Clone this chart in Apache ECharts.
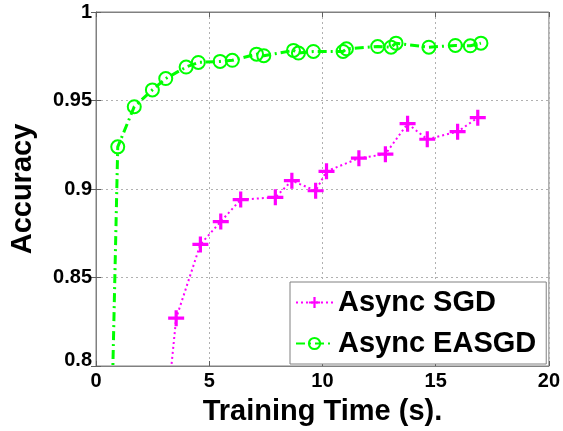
<!DOCTYPE html>
<html>
<head>
<meta charset="utf-8">
<script src="https://cdn.jsdelivr.net/npm/echarts@6/dist/echarts.min.js"></script>
<style>html,body{margin:0;padding:0;background:#fff}#c{width:563px;height:431px}</style>
</head>
<body>
<div id="c"></div>
<script>
// Data
var xTicks = [0, 5, 10, 15, 20];
var yTicks = [0.8, 0.85, 0.9, 0.95, 1];
var sgdTime = [2.55, 3.54, 4.61, 5.51, 6.39, 7.92, 8.65, 9.70, 10.18, 11.61, 12.78, 13.76, 14.63, 15.97, 16.86];
var sgdAcc  = [0.700, 0.827, 0.8687, 0.8816, 0.894, 0.8953, 0.9047, 0.899, 0.910, 0.9174, 0.9197, 0.9369, 0.9281, 0.9324, 0.9403];
var easgdTime = [0.40, 0.96, 1.69, 2.49, 3.08, 3.98, 4.52, 5.48, 6.02, 7.09, 7.41, 8.72, 8.94, 9.60, 10.91, 11.06, 12.44, 13.03, 13.25, 14.70, 15.87, 16.53, 17.00];
var easgdAcc  = [0.600, 0.9238, 0.9465, 0.956, 0.9624, 0.9689, 0.9715, 0.9721, 0.9727, 0.9762, 0.9753, 0.9783, 0.9768, 0.9777, 0.9777, 0.9792, 0.9805, 0.9801, 0.9824, 0.9801, 0.9811, 0.9809, 0.9824];
var seriesNames = ['Async SGD', 'Async EASGD'];

function zip(a, b) { return a.map(function (v, i) { return [v, b[i]]; }); }

var FONT = '"Liberation Sans", Arial, Helvetica, sans-serif';
var plus = 'path://M-1,-5H1V-1H5V1H1V5H-1V1H-5V-1H-1Z';

var chart = echarts.init(document.getElementById('c'), null, {renderer: 'canvas'});
var baseX = {
  type: 'value', min: xTicks[0], max: xTicks[xTicks.length - 1], interval: 5,
  axisLine: {show: true, lineStyle: {color: '#808080', width: 1}},
  axisTick: {show: true, inside: true, length: 5, lineStyle: {color: '#606060'}},
  splitLine: {show: false}
};
var baseY = {
  type: 'value', min: yTicks[0], max: yTicks[yTicks.length - 1], interval: 0.05,
  axisLine: {show: true, lineStyle: {color: '#808080', width: 1}},
  axisTick: {show: true, inside: true, length: 5, lineStyle: {color: '#606060'}},
  splitLine: {show: false}
};
chart.setOption({
  animation: false,
  backgroundColor: '#fff',
  grid: {left: 94, top: 12, right: 12, bottom: 63, show: true, borderColor: '#808080', borderWidth: 1, backgroundColor: '#fff'},
  xAxis: [
    Object.assign({}, baseX, {
      position: 'bottom',
      name: 'Training Time (s).', nameLocation: 'middle', nameGap: 31,
      nameTextStyle: {fontFamily: FONT, fontWeight: 'bold', fontSize: 29, color: '#000'},
      axisLabel: {fontFamily: FONT, fontWeight: 'bold', fontSize: 20, color: '#000', margin: 5,
        formatter: function (v) { return String(v); }},
      splitLine: {show: true, lineStyle: {color: '#b0b0b0', type: [2, 3], width: 1}}
    }),
    Object.assign({}, baseX, {position: 'top', axisLabel: {show: false}})
  ],
  yAxis: [
    Object.assign({}, baseY, {
      position: 'left',
      name: 'Accuracy', nameLocation: 'middle', nameGap: 59,
      nameTextStyle: {fontFamily: FONT, fontWeight: 'bold', fontSize: 29, color: '#000'},
      axisLabel: {fontFamily: FONT, fontWeight: 'bold', fontSize: 20, color: '#000', margin: 4,
        formatter: function (v) {
          var s = Math.round(v * 100) / 100;
          return s === 0.8 ? '{low|0.8}' : String(s);
        },
        rich: {low: {fontFamily: FONT, fontWeight: 'bold', fontSize: 20, color: '#000', padding: [0, 0, 12, 0]}}},
      splitLine: {show: true, lineStyle: {color: '#b0b0b0', type: [2, 3], width: 1}}
    }),
    Object.assign({}, baseY, {position: 'right', axisLabel: {show: false}})
  ],
  legend: {
    orient: 'vertical', left: 290, top: 282,
    padding: [6, 10, 6, 5], itemGap: 12, itemWidth: 37, itemHeight: 14, itemTextGap: 3,
    backgroundColor: '#fff', borderColor: '#808080', borderWidth: 1,
    textStyle: {fontFamily: FONT, fontWeight: 'bold', fontSize: 29, color: '#000'},
    data: seriesNames
  },
  series: [
    {
      name: seriesNames[0], type: 'line', data: zip(sgdTime, sgdAcc), clip: true,
      symbol: plus, symbolSize: 16,
      itemStyle: {color: '#ff00ff', borderWidth: 0},
      lineStyle: {color: '#ff00ff', width: 2, type: [2, 3]},
      z: 3
    },
    {
      name: seriesNames[1], type: 'line', data: zip(easgdTime, easgdAcc), clip: true,
      symbol: 'circle', symbolSize: 13,
      itemStyle: {color: 'rgba(255,255,255,0)', borderColor: '#00ff00', borderWidth: 2},
      lineStyle: {color: '#00ff00', width: 3, type: [9, 4, 2, 4]},
      z: 4
    }
  ]
});
</script>
</body>
</html>
